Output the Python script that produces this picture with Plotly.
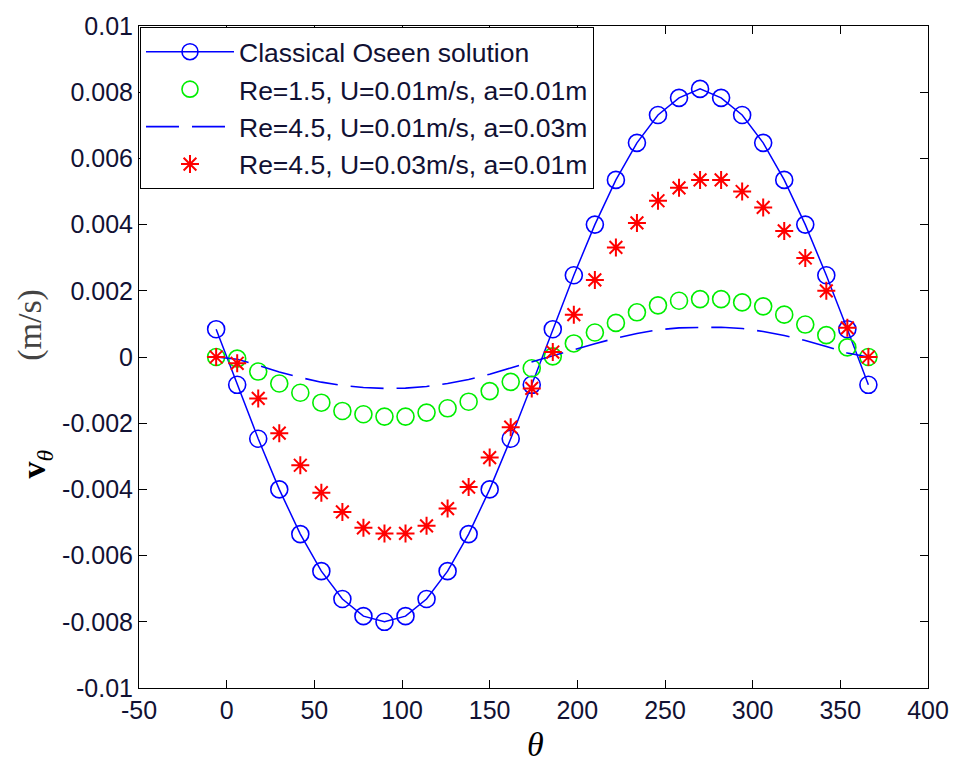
import plotly.graph_objects as go

theta = [-6, 6, 18, 30, 42, 54, 66, 78, 90, 102, 114, 126, 138, 150, 162, 174,
         186, 198, 210, 222, 234, 246, 258, 270, 282, 294, 306, 318, 330, 342, 354, 366]

v_classical = [0.00084, -0.00084, -0.00247, -0.0040, -0.00535, -0.00647, -0.00731, -0.00783,
               -0.0080, -0.00783, -0.00731, -0.00647, -0.00535, -0.0040, -0.00247, -0.00084,
               0.00084, 0.00247, 0.0040, 0.00535, 0.00647, 0.00731, 0.00783, 0.0081,
               0.00783, 0.00731, 0.00647, 0.00535, 0.0040, 0.00247, 0.00084, -0.00084]

v_re15 = [0.0, -0.00005, -0.00044, -0.0008, -0.00108, -0.00138, -0.00163, -0.00173,
          -0.0018, -0.0018, -0.00168, -0.00155, -0.00135, -0.00103, -0.00075, -0.00034,
          0.00002, 0.00041, 0.00074, 0.00103, 0.00135, 0.00156, 0.0017, 0.00175,
          0.00175, 0.00165, 0.00153, 0.00128, 0.00098, 0.00066, 0.00029, 0.0]

v_re45_a03 = [0.0, -0.00007, -0.00025, -0.00045, -0.00062, -0.00076, -0.00086, -0.00092,
              -0.00095, -0.00094, -0.00089, -0.0008, -0.00068, -0.00052, -0.00033, -0.00014,
              0.00005, 0.00022, 0.0004, 0.00057, 0.00071, 0.00082, 0.00088, 0.0009,
              0.0009, 0.00086, 0.00077, 0.00065, 0.0005, 0.00032, 0.00012, 0.0]

v_re45_u03 = [0.0, -0.00019, -0.00125, -0.0023, -0.00327, -0.0041, -0.00468, -0.00516,
              -0.00533, -0.00533, -0.0051, -0.00458, -0.00393, -0.00304, -0.00212, -0.00095,
              0.00015, 0.00128, 0.00233, 0.00331, 0.00405, 0.00472, 0.00511, 0.00535,
              0.00535, 0.005, 0.00452, 0.00381, 0.00299, 0.002, 0.00088, 0.0]

series_names = ["Classical Oseen solution",
                "Re=1.5, U=0.01m/s, a=0.01m",
                "Re=4.5, U=0.01m/s, a=0.03m",
                "Re=4.5, U=0.03m/s, a=0.01m"]

x_tickvals = [-50, 0, 50, 100, 150, 200, 250, 300, 350, 400]
x_ticktext = ["-50", "0", "50", "100", "150", "200", "250", "300", "350", "400"]
y_tickvals = [-0.01, -0.008, -0.006, -0.004, -0.002, 0, 0.002, 0.004, 0.006, 0.008, 0.01]
y_ticktext = ["-0.01", "-0.008", "-0.006", "-0.004", "-0.002", "0", "0.002", "0.004",
              "0.006", "0.008", "0.01"]

fig = go.Figure()
fig.add_trace(go.Scatter(
    x=theta, y=v_classical, name=series_names[0], mode="lines+markers",
    line=dict(color="#0000ff", width=1.5),
    marker=dict(symbol="circle-open", size=17, color="#0000ff", line=dict(width=1.6, color="#0000ff"))))
fig.add_trace(go.Scatter(
    x=theta, y=v_re15, name=series_names[1], mode="markers",
    marker=dict(symbol="circle-open", size=17, color="#00ee00", line=dict(width=1.6, color="#00ee00"))))
fig.add_trace(go.Scatter(
    x=theta, y=v_re45_a03, name=series_names[2], mode="lines",
    line=dict(color="#0000ff", width=1.6, dash="33px,13px")))
fig.add_trace(go.Scatter(
    x=theta, y=v_re45_u03, name=series_names[3], mode="markers",
    marker=dict(symbol="asterisk-open", size=15, color="#ff0000", line=dict(width=2, color="#ff0000"))))

L, R, T, B = 139, 29, 20, 79
W, H = 961, 767
pw, ph = W - L - R, H - T - B

def px_x(p):
    return (p - L) / pw

def px_y(p):
    return (H - B - p) / ph

axis_common = dict(showline=True, linecolor="black", linewidth=1, mirror="ticks",
                   ticks="inside", ticklen=8, tickcolor="black", tickwidth=1,
                   showgrid=False, zeroline=False,
                   tickfont=dict(family="Liberation Sans, Arial", size=25, color="#111133"))

fig.update_layout(
    width=W, height=H,
    margin=dict(l=L, r=R, t=T, b=B),
    paper_bgcolor="white", plot_bgcolor="white",
    xaxis=dict(range=[-50, 400], tickvals=x_tickvals, ticktext=x_ticktext, **axis_common),
    yaxis=dict(range=[-0.01, 0.01], tickvals=y_tickvals, ticktext=y_ticktext, **axis_common),
    legend=dict(x=px_x(140), y=px_y(21), xanchor="left", yanchor="top",
                bgcolor="white", bordercolor="black", borderwidth=1,
                itemwidth=88, tracegroupgap=0,
                font=dict(family="Liberation Sans, Arial", size=26.5, color="#111133")),
    showlegend=True,
    annotations=[
        dict(text="<i>θ</i>", xref="paper", yref="paper", x=px_x(538), y=px_y(745),
             xanchor="center", yanchor="middle",
             showarrow=False, font=dict(family="Liberation Serif, Times New Roman", size=34, color="black")),
        dict(text="(m/s)", xref="paper", yref="paper", x=px_x(30), y=px_y(322),
             xanchor="center", yanchor="middle",
             textangle=-90, showarrow=False,
             font=dict(family="Liberation Serif, Times New Roman", size=34, color="#444444")),
        dict(text="<b>v</b><sub><i>θ</i></sub>", xref="paper", yref="paper", x=px_x(36), y=px_y(462),
             xanchor="center", yanchor="middle",
             textangle=-90, showarrow=False,
             font=dict(family="Liberation Serif, Times New Roman", size=34, color="black")),
    ],
)

fig.write_html("out.html")
